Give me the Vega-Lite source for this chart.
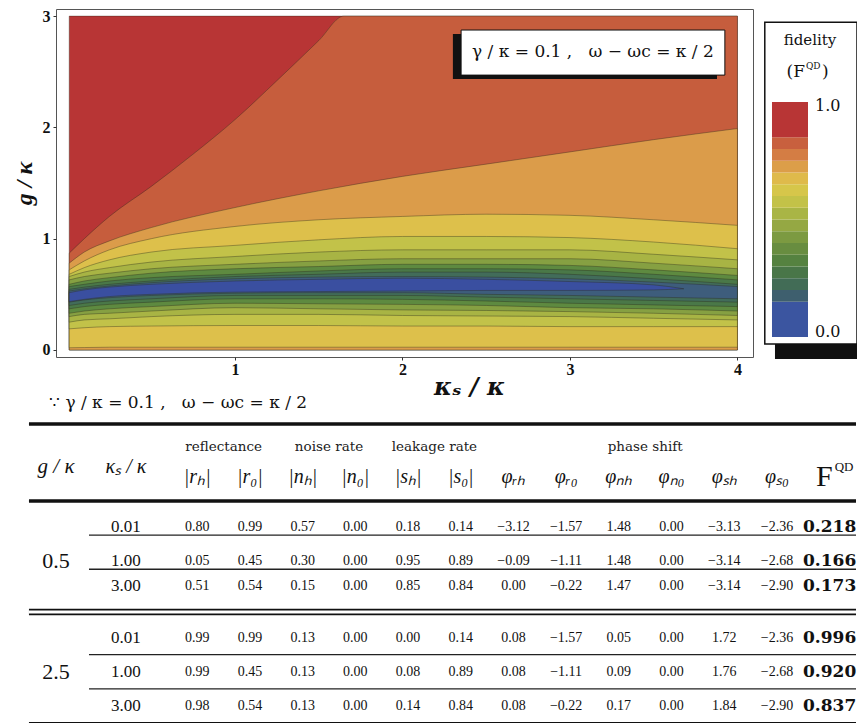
{
  "$schema": "https://vega.github.io/schema/vega-lite/v6.json",
  "padding": {"left": 11, "top": 7, "right": 0, "bottom": 0},
  "background": "white",
  "config": {"font": "DejaVu Serif", "view": {"stroke": null}, "text": {"color": "#111"}},
  "datasets": {
    "contours": [
      {"band":11,"ks":0.01,"lo":0,"hi":3},{"band":11,"ks":4,"lo":0,"hi":3},
      {"band":10,"ks":0.01,"lo":0,"hi":0.87},{"band":10,"ks":0.1,"lo":0,"hi":1.0},{"band":10,"ks":0.25,"lo":0,"hi":1.2},{"band":10,"ks":0.5,"lo":0,"hi":1.47},{"band":10,"ks":0.75,"lo":0,"hi":1.76},{"band":10,"ks":1.0,"lo":0,"hi":2.07},{"band":10,"ks":1.25,"lo":0,"hi":2.42},{"band":10,"ks":1.5,"lo":0,"hi":2.78},{"band":10,"ks":1.65,"lo":0,"hi":3.0},{"band":10,"ks":2.5,"lo":0,"hi":3.0},{"band":10,"ks":4.0,"lo":0,"hi":3.0},
      {"band":9,"ks":0.01,"lo":0,"hi":0.78},{"band":9,"ks":0.1,"lo":0,"hi":0.88},{"band":9,"ks":0.25,"lo":0,"hi":0.98},{"band":9,"ks":0.5,"lo":0,"hi":1.1},{"band":9,"ks":1,"lo":0,"hi":1.28},{"band":9,"ks":1.5,"lo":0,"hi":1.43},{"band":9,"ks":2,"lo":0,"hi":1.56},{"band":9,"ks":2.5,"lo":0,"hi":1.67},{"band":9,"ks":3,"lo":0,"hi":1.78},{"band":9,"ks":3.5,"lo":0,"hi":1.89},{"band":9,"ks":4,"lo":0,"hi":1.99},
      {"band":8,"ks":0.01,"lo":0.02,"hi":0.72},{"band":8,"ks":0.1,"lo":0.022,"hi":0.8},{"band":8,"ks":0.25,"lo":0.025,"hi":0.9},{"band":8,"ks":0.5,"lo":0.025,"hi":1.0},{"band":8,"ks":1,"lo":0.025,"hi":1.11},{"band":8,"ks":1.5,"lo":0.025,"hi":1.17},{"band":8,"ks":2,"lo":0.025,"hi":1.2},{"band":8,"ks":2.5,"lo":0.025,"hi":1.22},{"band":8,"ks":3,"lo":0.025,"hi":1.21},{"band":8,"ks":3.5,"lo":0.025,"hi":1.17},{"band":8,"ks":4,"lo":0.025,"hi":1.12},
      {"band":7,"ks":0.01,"lo":0.19,"hi":0.68},{"band":7,"ks":0.1,"lo":0.2,"hi":0.74},{"band":7,"ks":0.25,"lo":0.21,"hi":0.81},{"band":7,"ks":0.5,"lo":0.215,"hi":0.88},{"band":7,"ks":1,"lo":0.22,"hi":0.94},{"band":7,"ks":1.5,"lo":0.22,"hi":0.99},{"band":7,"ks":2,"lo":0.215,"hi":1.02},{"band":7,"ks":2.5,"lo":0.215,"hi":1.02},{"band":7,"ks":3,"lo":0.21,"hi":1.01},{"band":7,"ks":3.5,"lo":0.21,"hi":0.97},{"band":7,"ks":4,"lo":0.21,"hi":0.91},
      {"band":6,"ks":0.01,"lo":0.25,"hi":0.66},{"band":6,"ks":0.1,"lo":0.27,"hi":0.7},{"band":6,"ks":0.25,"lo":0.28,"hi":0.74},{"band":6,"ks":0.5,"lo":0.3,"hi":0.79},{"band":6,"ks":1,"lo":0.32,"hi":0.84},{"band":6,"ks":1.5,"lo":0.32,"hi":0.88},{"band":6,"ks":2,"lo":0.31,"hi":0.9},{"band":6,"ks":2.5,"lo":0.305,"hi":0.9},{"band":6,"ks":3,"lo":0.3,"hi":0.9},{"band":6,"ks":3.5,"lo":0.285,"hi":0.86},{"band":6,"ks":4,"lo":0.27,"hi":0.81},
      {"band":5,"ks":0.01,"lo":0.3,"hi":0.63},{"band":5,"ks":0.1,"lo":0.32,"hi":0.66},{"band":5,"ks":0.25,"lo":0.33,"hi":0.69},{"band":5,"ks":0.5,"lo":0.35,"hi":0.73},{"band":5,"ks":1,"lo":0.38,"hi":0.77},{"band":5,"ks":1.5,"lo":0.37,"hi":0.8},{"band":5,"ks":2,"lo":0.36,"hi":0.82},{"band":5,"ks":2.5,"lo":0.355,"hi":0.82},{"band":5,"ks":3,"lo":0.345,"hi":0.82},{"band":5,"ks":3.5,"lo":0.33,"hi":0.78},{"band":5,"ks":4,"lo":0.31,"hi":0.73},
      {"band":4,"ks":0.01,"lo":0.33,"hi":0.59},{"band":4,"ks":0.1,"lo":0.35,"hi":0.62},{"band":4,"ks":0.25,"lo":0.37,"hi":0.65},{"band":4,"ks":0.5,"lo":0.39,"hi":0.69},{"band":4,"ks":1,"lo":0.42,"hi":0.73},{"band":4,"ks":1.5,"lo":0.415,"hi":0.75},{"band":4,"ks":2,"lo":0.41,"hi":0.77},{"band":4,"ks":2.5,"lo":0.4,"hi":0.77},{"band":4,"ks":3,"lo":0.38,"hi":0.76},{"band":4,"ks":3.5,"lo":0.37,"hi":0.72},{"band":4,"ks":4,"lo":0.35,"hi":0.67},
      {"band":3,"ks":0.01,"lo":0.37,"hi":0.57},{"band":3,"ks":0.1,"lo":0.39,"hi":0.59},{"band":3,"ks":0.25,"lo":0.41,"hi":0.62},{"band":3,"ks":0.5,"lo":0.43,"hi":0.65},{"band":3,"ks":1,"lo":0.46,"hi":0.68},{"band":3,"ks":1.5,"lo":0.46,"hi":0.71},{"band":3,"ks":2,"lo":0.455,"hi":0.73},{"band":3,"ks":2.5,"lo":0.44,"hi":0.73},{"band":3,"ks":3,"lo":0.42,"hi":0.72},{"band":3,"ks":3.5,"lo":0.405,"hi":0.68},{"band":3,"ks":4,"lo":0.39,"hi":0.63},
      {"band":2,"ks":0.01,"lo":0.4,"hi":0.545},{"band":2,"ks":0.1,"lo":0.42,"hi":0.565},{"band":2,"ks":0.25,"lo":0.44,"hi":0.59},{"band":2,"ks":0.5,"lo":0.46,"hi":0.62},{"band":2,"ks":1,"lo":0.49,"hi":0.66},{"band":2,"ks":1.5,"lo":0.49,"hi":0.68},{"band":2,"ks":2,"lo":0.49,"hi":0.7},{"band":2,"ks":2.5,"lo":0.475,"hi":0.7},{"band":2,"ks":3,"lo":0.46,"hi":0.68},{"band":2,"ks":3.5,"lo":0.445,"hi":0.64},{"band":2,"ks":4,"lo":0.43,"hi":0.59},
      {"band":1,"ks":0.01,"lo":0.43,"hi":0.53},{"band":1,"ks":0.1,"lo":0.45,"hi":0.55},{"band":1,"ks":0.25,"lo":0.47,"hi":0.575},{"band":1,"ks":0.5,"lo":0.49,"hi":0.605},{"band":1,"ks":1,"lo":0.51,"hi":0.64},{"band":1,"ks":1.5,"lo":0.515,"hi":0.655},{"band":1,"ks":2,"lo":0.515,"hi":0.66},{"band":1,"ks":2.5,"lo":0.5,"hi":0.655},{"band":1,"ks":3,"lo":0.49,"hi":0.64},{"band":1,"ks":3.5,"lo":0.475,"hi":0.61},{"band":1,"ks":4,"lo":0.46,"hi":0.57},
      {"band":0,"ks":0.01,"lo":0.435,"hi":0.515},{"band":0,"ks":0.1,"lo":0.455,"hi":0.54},{"band":0,"ks":0.25,"lo":0.48,"hi":0.565},{"band":0,"ks":0.5,"lo":0.5,"hi":0.59},{"band":0,"ks":1,"lo":0.52,"hi":0.62},{"band":0,"ks":1.5,"lo":0.525,"hi":0.635},{"band":0,"ks":2,"lo":0.53,"hi":0.645},{"band":0,"ks":2.5,"lo":0.535,"hi":0.635},{"band":0,"ks":3,"lo":0.535,"hi":0.615},{"band":0,"ks":3.5,"lo":0.54,"hi":0.585},{"band":0,"ks":3.68,"lo":0.55,"hi":0.55}
    ],
    "legendbar": [
      {"lo":0,"hi":0.15},{"lo":0.15,"hi":0.2},{"lo":0.2,"hi":0.25},{"lo":0.25,"hi":0.3},{"lo":0.3,"hi":0.35},{"lo":0.35,"hi":0.4},{"lo":0.4,"hi":0.45},{"lo":0.45,"hi":0.5},{"lo":0.5,"hi":0.55},{"lo":0.55,"hi":0.6},{"lo":0.6,"hi":0.65},{"lo":0.65,"hi":0.7},{"lo":0.7,"hi":0.75},{"lo":0.75,"hi":0.8},{"lo":0.8,"hi":0.85},{"lo":0.85,"hi":1.0}
    ],
    "table": [
      {"slot":"r1","g":"0.5","ks":"0.01","rh":"0.80","r0":"0.99","nh":"0.57","n0":"0.00","sh":"0.18","s0":"0.14","prh":"−3.12","pr0":"−1.57","pnh":"1.48","pn0":"0.00","psh":"−3.13","ps0":"−2.36","F":"0.218"},
      {"slot":"r2","g":"0.5","ks":"1.00","rh":"0.05","r0":"0.45","nh":"0.30","n0":"0.00","sh":"0.95","s0":"0.89","prh":"−0.09","pr0":"−1.11","pnh":"1.48","pn0":"0.00","psh":"−3.14","ps0":"−2.68","F":"0.166"},
      {"slot":"r3","g":"0.5","ks":"3.00","rh":"0.51","r0":"0.54","nh":"0.15","n0":"0.00","sh":"0.85","s0":"0.84","prh":"0.00","pr0":"−0.22","pnh":"1.47","pn0":"0.00","psh":"−3.14","ps0":"−2.90","F":"0.173"},
      {"slot":"r4","g":"2.5","ks":"0.01","rh":"0.99","r0":"0.99","nh":"0.13","n0":"0.00","sh":"0.00","s0":"0.14","prh":"0.08","pr0":"−1.57","pnh":"0.05","pn0":"0.00","psh":"1.72","ps0":"−2.36","F":"0.996"},
      {"slot":"r5","g":"2.5","ks":"1.00","rh":"0.99","r0":"0.45","nh":"0.13","n0":"0.00","sh":"0.08","s0":"0.89","prh":"0.08","pr0":"−1.11","pnh":"0.09","pn0":"0.00","psh":"1.76","ps0":"−2.68","F":"0.920"},
      {"slot":"r6","g":"2.5","ks":"3.00","rh":"0.98","r0":"0.54","nh":"0.13","n0":"0.00","sh":"0.14","s0":"0.84","prh":"0.08","pr0":"−0.22","pnh":"0.17","pn0":"0.00","psh":"1.84","ps0":"−2.90","F":"0.837"}
    ]
  },
  "spacing": -6,
  "resolve": {"scale": {"x": "independent", "y": "independent", "color": "independent"}},
  "vconcat": [
    {
      "spacing": 10,
      "resolve": {"scale": {"x": "independent", "y": "independent", "color": "independent"}},
      "hconcat": [
        {
          "width": 697,
          "height": 348,
          "view": {"stroke": "#555", "strokeWidth": 1},
          "layer": [
            {
              "data": {"name": "contours"},
              "mark": {"type": "area", "interpolate": "monotone", "stroke": "#2a2a1a", "strokeWidth": 0.7, "strokeOpacity": 0.55},
              "encoding": {
                "x": {"field": "ks", "type": "quantitative", "scale": {"domain": [-0.069, 4.093], "nice": false, "zero": false},
                  "axis": {"values": [1, 2, 3, 4], "format": "d", "domain": false, "grid": false, "tickSize": 3, "tickColor": "#333", "labelPadding": 1, "labelFont": "Liberation Serif", "labelFontWeight": "bold", "labelFontSize": 16, "labelColor": "#111", "title": "κₛ / κ", "titleFont": "DejaVu Serif", "titleFontStyle": "italic", "titleFontWeight": "bold", "titleFontSize": 24, "titleColor": "#111", "titleX": 413, "titlePadding": -2}},
                "y": {"field": "lo", "type": "quantitative", "stack": null, "scale": {"domain": [-0.063, 3.064], "nice": false, "zero": false},
                  "axis": {"values": [0, 1, 2, 3], "format": "d", "domain": false, "grid": false, "tickSize": 3, "tickColor": "#333", "labelPadding": 3, "labelFont": "Liberation Serif", "labelFontWeight": "bold", "labelFontSize": 16, "labelColor": "#111", "title": "g / κ", "titleFont": "Liberation Serif", "titleFontStyle": "italic", "titleFontWeight": "bold", "titleFontSize": 24, "titleColor": "#111", "titlePadding": 6}},
                "y2": {"field": "hi"},
                "color": {"field": "band", "type": "ordinal", "legend": null,
                  "scale": {"domain": [0,1,2,3,4,5,6,7,8,9,10,11], "range": ["#3A4FA0","#3E5D7C","#426C5A","#4A7848","#5E8A40","#86A042","#A8B444","#C2C249","#DDC04B","#DB9C4A","#C65D3D","#B83535"]}}
              }
            },
            {
              "data": {"values": [{}]},
              "mark": {"type": "rect", "color": "#111"},
              "encoding": {
                "x": {"datum": 2.301, "type": "quantitative", "scale": {"domain": [-0.069, 4.093], "nice": false, "zero": false}},
                "x2": {"datum": 3.878},
                "y": {"datum": 2.435, "type": "quantitative", "scale": {"domain": [-0.063, 3.064], "nice": false, "zero": false}},
                "y2": {"datum": 2.839}
              }
            },
            {
              "data": {"values": [{}]},
              "mark": {"type": "rect", "fill": "white", "stroke": "#111", "strokeWidth": 1},
              "encoding": {
                "x": {"datum": 2.35, "type": "quantitative", "scale": {"domain": [-0.069, 4.093], "nice": false, "zero": false}},
                "x2": {"datum": 3.925},
                "y": {"datum": 2.47, "type": "quantitative", "scale": {"domain": [-0.063, 3.064], "nice": false, "zero": false}},
                "y2": {"datum": 2.875}
              }
            },
            {
              "data": {"values": [{}]},
              "mark": {"type": "text", "text": "γ / κ = 0.1 ,\u00a0\u00a0\u00a0ω − ωc = κ / 2", "font": "DejaVu Serif", "fontSize": 17, "align": "center", "baseline": "middle", "color": "#111"},
              "encoding": {
                "x": {"datum": 3.137, "type": "quantitative", "scale": {"domain": [-0.069, 4.093], "nice": false, "zero": false}},
                "y": {"datum": 2.677, "type": "quantitative", "scale": {"domain": [-0.063, 3.064], "nice": false, "zero": false}}
              }
            }
          ]
        },
        {
          "width": 93,
          "height": 350,
          "data": {"values": [{}]},
          "layer": [
            {
              "mark": {"type": "rect", "color": "#111"},
              "encoding": {
                "x": {"datum": 0.083, "type": "quantitative", "scale": {"domain": [-0.222, 2.361], "nice": false, "zero": false}, "axis": null},
                "x2": {"value": "width"},
                "y": {"datum": -0.094, "type": "quantitative", "scale": {"domain": [-0.094, 1.396], "nice": false, "zero": false}, "axis": null},
                "y2": {"datum": -0.03}
              }
            },
            {
              "mark": {"type": "rect", "fill": "white", "stroke": "#111", "strokeWidth": 1.5},
              "encoding": {
                "x": {"datum": -0.2, "type": "quantitative", "scale": {"domain": [-0.222, 2.361], "nice": false, "zero": false}, "axis": null},
                "x2": {"value": "width"},
                "y": {"datum": -0.03, "type": "quantitative", "scale": {"domain": [-0.094, 1.396], "nice": false, "zero": false}, "axis": null},
                "y2": {"datum": 1.34}
              }
            },
            {
              "data": {"name": "legendbar"},
              "mark": {"type": "rect"},
              "encoding": {
                "x": {"datum": 0, "type": "quantitative", "scale": {"domain": [-0.222, 2.361], "nice": false, "zero": false}, "axis": null},
                "x2": {"datum": 1},
                "y": {"field": "lo", "type": "quantitative", "scale": {"domain": [-0.094, 1.396], "nice": false, "zero": false}, "axis": null},
                "y2": {"field": "hi"},
                "color": {"field": "lo", "type": "ordinal", "legend": null,
                  "scale": {"domain": [0,0.15,0.2,0.25,0.3,0.35,0.4,0.45,0.5,0.55,0.6,0.65,0.7,0.75,0.8,0.85], "range": ["#3B55A0","#3E5F6E","#426C56","#497648","#558240","#688D40","#7C9A41","#95A843","#A9B545","#C3C248","#D6C64A","#DFBA4B","#DC9E49","#D47D44","#C8603E","#B83535"]}}
              }
            },
            {
              "mark": {"type": "text", "text": "1.0", "align": "left", "baseline": "middle", "font": "DejaVu Serif", "fontSize": 16},
              "encoding": {
                "x": {"datum": 1.194, "type": "quantitative", "scale": {"domain": [-0.222, 2.361], "nice": false, "zero": false}, "axis": null},
                "y": {"datum": 0.985, "type": "quantitative", "scale": {"domain": [-0.094, 1.396], "nice": false, "zero": false}, "axis": null}
              }
            },
            {
              "mark": {"type": "text", "text": "0.0", "align": "left", "baseline": "middle", "font": "DejaVu Serif", "fontSize": 16},
              "encoding": {
                "x": {"datum": 1.194, "type": "quantitative", "scale": {"domain": [-0.222, 2.361], "nice": false, "zero": false}, "axis": null},
                "y": {"datum": 0.022, "type": "quantitative", "scale": {"domain": [-0.094, 1.396], "nice": false, "zero": false}, "axis": null}
              }
            },
            {
              "mark": {"type": "text", "text": "fidelity", "align": "center", "baseline": "middle", "font": "DejaVu Serif", "fontSize": 15},
              "encoding": {
                "x": {"datum": 1.055, "type": "quantitative", "scale": {"domain": [-0.222, 2.361], "nice": false, "zero": false}, "axis": null},
                "y": {"datum": 1.264, "type": "quantitative", "scale": {"domain": [-0.094, 1.396], "nice": false, "zero": false}, "axis": null}
              }
            },
            {
              "mark": {"type": "text", "text": "(F", "align": "right", "baseline": "middle", "font": "DejaVu Serif", "fontSize": 17},
              "encoding": {
                "x": {"datum": 0.917, "type": "quantitative", "scale": {"domain": [-0.222, 2.361], "nice": false, "zero": false}, "axis": null},
                "y": {"datum": 1.128, "type": "quantitative", "scale": {"domain": [-0.094, 1.396], "nice": false, "zero": false}, "axis": null}
              }
            },
            {
              "mark": {"type": "text", "text": "QD", "align": "left", "baseline": "middle", "font": "DejaVu Serif", "fontSize": 9, "dy": -6},
              "encoding": {
                "x": {"datum": 0.944, "type": "quantitative", "scale": {"domain": [-0.222, 2.361], "nice": false, "zero": false}, "axis": null},
                "y": {"datum": 1.128, "type": "quantitative", "scale": {"domain": [-0.094, 1.396], "nice": false, "zero": false}, "axis": null}
              }
            },
            {
              "mark": {"type": "text", "text": ")", "align": "left", "baseline": "middle", "font": "DejaVu Serif", "fontSize": 17},
              "encoding": {
                "x": {"datum": 1.389, "type": "quantitative", "scale": {"domain": [-0.222, 2.361], "nice": false, "zero": false}, "axis": null},
                "y": {"datum": 1.128, "type": "quantitative", "scale": {"domain": [-0.094, 1.396], "nice": false, "zero": false}, "axis": null}
              }
            }
          ]
        }
      ]
    },
    {
      "width": 800,
      "height": 299,
      "title": {"text": "∵ γ / κ = 0.1 ,\u00a0\u00a0\u00a0ω − ωc = κ / 2", "anchor": "start", "frame": "group", "font": "DejaVu Serif", "fontSize": 17, "fontWeight": "normal", "color": "#111", "dx": -7, "offset": 10},
      "encoding": {
        "y": {"field": "slot", "type": "nominal", "axis": null,
          "scale": {"type": "point", "padding": 0, "domain": ["top","y1","y2","hdr1","y4","hdrmid","hdr2","y7","y8","hrule","y10","y11","r1","sep1","y14","y15","r2","sep2","y18","r3","y20","y21","dbl","y23","y24","r4","y26","sep3","y28","r5","y30","sep4","y32","r6","y34","bottom"]}}
      },
      "layer": [
        {
          "data": {"values": [{"slot": "top"}, {"slot": "hrule"}]},
          "mark": {"type": "rule", "strokeWidth": 3.5, "color": "#111"},
          "encoding": {
            "x": {"datum": "g", "type": "nominal", "bandPosition": -0.693, "axis": null, "scale": {"type": "band", "domain": ["g","ks","rh","r0","nh","n0","sh","s0","prh","pr0","pnh","pn0","psh","ps0","F"], "paddingInner": 0, "paddingOuter": 0.09, "align": 1}},
            "x2": {"value": "width"}
          }
        },
        {
          "data": {"values": [{"slot": "dbl"}]},
          "mark": {"type": "rule", "strokeWidth": 6.5, "color": "#111"},
          "encoding": {
            "x": {"datum": "g", "type": "nominal", "bandPosition": -0.693, "axis": null, "scale": {"type": "band", "domain": ["g","ks","rh","r0","nh","n0","sh","s0","prh","pr0","pnh","pn0","psh","ps0","F"], "paddingInner": 0, "paddingOuter": 0.09, "align": 1}},
            "x2": {"value": "width"}
          }
        },
        {
          "data": {"values": [{"slot": "dbl"}]},
          "mark": {"type": "rule", "strokeWidth": 3, "color": "white"},
          "encoding": {
            "x": {"datum": "g", "type": "nominal", "bandPosition": -0.693, "axis": null, "scale": {"type": "band", "domain": ["g","ks","rh","r0","nh","n0","sh","s0","prh","pr0","pnh","pn0","psh","ps0","F"], "paddingInner": 0, "paddingOuter": 0.09, "align": 1}},
            "x2": {"value": "width"}
          }
        },
        {
          "data": {"values": [{"slot": "bottom"}]},
          "mark": {"type": "rule", "strokeWidth": 2, "color": "#111"},
          "encoding": {
            "x": {"datum": "g", "type": "nominal", "bandPosition": -0.693, "axis": null, "scale": {"type": "band", "domain": ["g","ks","rh","r0","nh","n0","sh","s0","prh","pr0","pnh","pn0","psh","ps0","F"], "paddingInner": 0, "paddingOuter": 0.09, "align": 1}},
            "x2": {"value": "width"}
          }
        },
        {
          "data": {"values": [{"slot": "sep1"}, {"slot": "sep2"}, {"slot": "sep3"}, {"slot": "sep4"}]},
          "mark": {"type": "rule", "strokeWidth": 1.3, "color": "#222"},
          "encoding": {
            "x": {"datum": "g", "type": "nominal", "bandPosition": 0.446, "axis": null, "scale": {"type": "band", "domain": ["g","ks","rh","r0","nh","n0","sh","s0","prh","pr0","pnh","pn0","psh","ps0","F"], "paddingInner": 0, "paddingOuter": 0.09, "align": 1}},
            "x2": {"value": "width"}
          }
        },
        {
          "data": {"values": [{"col": "rh", "label": "reflectance", "slot": "hdr1"}, {"col": "nh", "label": "noise rate", "slot": "hdr1"}, {"col": "sh", "label": "leakage rate", "slot": "hdr1"}, {"col": "pnh", "label": "phase shift", "slot": "hdr1"}]},
          "mark": {"type": "text", "font": "DejaVu Serif", "fontSize": 13.5, "align": "center", "baseline": "middle", "color": "#222", "dy": -3},
          "encoding": {
            "x": {"field": "col", "type": "nominal", "bandPosition": 1, "axis": null, "scale": {"type": "band", "domain": ["g","ks","rh","r0","nh","n0","sh","s0","prh","pr0","pnh","pn0","psh","ps0","F"], "paddingInner": 0, "paddingOuter": 0.09, "align": 1}},
            "text": {"field": "label"}
          }
        },
        {
          "data": {"values": [{"col":"rh","label":"|rₕ|","slot":"hdr2"},{"col":"r0","label":"|r₀|","slot":"hdr2"},{"col":"nh","label":"|nₕ|","slot":"hdr2"},{"col":"n0","label":"|n₀|","slot":"hdr2"},{"col":"sh","label":"|sₕ|","slot":"hdr2"},{"col":"s0","label":"|s₀|","slot":"hdr2"},{"col":"prh","label":"φᵣₕ","slot":"hdr2"},{"col":"pr0","label":"φᵣ₀","slot":"hdr2"},{"col":"pnh","label":"φₙₕ","slot":"hdr2"},{"col":"pn0","label":"φₙ₀","slot":"hdr2"},{"col":"psh","label":"φₛₕ","slot":"hdr2"},{"col":"ps0","label":"φₛ₀","slot":"hdr2"}]},
          "mark": {"type": "text", "font": "Liberation Serif", "fontStyle": "italic", "fontSize": 20, "align": "center", "baseline": "middle", "dy": 2},
          "encoding": {
            "x": {"field": "col", "type": "nominal", "bandPosition": 0.5, "axis": null, "scale": {"type": "band", "domain": ["g","ks","rh","r0","nh","n0","sh","s0","prh","pr0","pnh","pn0","psh","ps0","F"], "paddingInner": 0, "paddingOuter": 0.09, "align": 1}},
            "text": {"field": "label"}
          }
        },
        {
          "data": {"values": [{"slot": "hdr2"}]},
          "mark": {"type": "text", "text": "F", "font": "Liberation Serif", "fontSize": 30, "align": "right", "baseline": "middle", "dx": 3, "dy": 2},
          "encoding": {
            "x": {"datum": "F", "type": "nominal", "bandPosition": 0.5, "axis": null, "scale": {"type": "band", "domain": ["g","ks","rh","r0","nh","n0","sh","s0","prh","pr0","pnh","pn0","psh","ps0","F"], "paddingInner": 0, "paddingOuter": 0.09, "align": 1}}
          }
        },
        {
          "data": {"values": [{"slot": "hdr2"}]},
          "mark": {"type": "text", "text": "QD", "font": "Liberation Serif", "fontSize": 13, "align": "left", "baseline": "middle", "dx": 5, "dy": -8},
          "encoding": {
            "x": {"datum": "F", "type": "nominal", "bandPosition": 0.5, "axis": null, "scale": {"type": "band", "domain": ["g","ks","rh","r0","nh","n0","sh","s0","prh","pr0","pnh","pn0","psh","ps0","F"], "paddingInner": 0, "paddingOuter": 0.09, "align": 1}}
          }
        },
        {
          "data": {"values": [{"col": "g", "label": "g / κ", "slot": "hdrmid"}]},
          "mark": {"type": "text", "font": "Liberation Serif", "fontStyle": "italic", "fontSize": 21, "align": "center", "baseline": "middle"},
          "encoding": {
            "x": {"field": "col", "type": "nominal", "bandPosition": -0.18, "axis": null, "scale": {"type": "band", "domain": ["g","ks","rh","r0","nh","n0","sh","s0","prh","pr0","pnh","pn0","psh","ps0","F"], "paddingInner": 0, "paddingOuter": 0.09, "align": 1}},
            "text": {"field": "label"}
          }
        },
        {
          "data": {"values": [{"col": "ks", "label": "κₛ / κ", "slot": "hdrmid"}]},
          "mark": {"type": "text", "font": "Liberation Serif", "fontStyle": "italic", "fontSize": 20, "align": "center", "baseline": "middle"},
          "encoding": {
            "x": {"field": "col", "type": "nominal", "bandPosition": 0.148, "axis": null, "scale": {"type": "band", "domain": ["g","ks","rh","r0","nh","n0","sh","s0","prh","pr0","pnh","pn0","psh","ps0","F"], "paddingInner": 0, "paddingOuter": 0.09, "align": 1}},
            "text": {"field": "label"}
          }
        },
        {
          "data": {"name": "table"},
          "transform": [{"fold": ["rh","r0","nh","n0","sh","s0","prh","pr0","pnh","pn0","psh","ps0"], "as": ["col", "val"]}],
          "mark": {"type": "text", "font": "Liberation Serif", "fontSize": 14, "align": "center", "baseline": "middle"},
          "encoding": {
            "x": {"field": "col", "type": "nominal", "bandPosition": 0.5, "axis": null, "scale": {"type": "band", "domain": ["g","ks","rh","r0","nh","n0","sh","s0","prh","pr0","pnh","pn0","psh","ps0","F"], "paddingInner": 0, "paddingOuter": 0.09, "align": 1}},
            "text": {"field": "val"}
          }
        },
        {
          "data": {"name": "table"},
          "mark": {"type": "text", "font": "DejaVu Serif", "fontWeight": "bold", "fontSize": 17, "align": "center", "baseline": "middle"},
          "encoding": {
            "x": {"datum": "F", "type": "nominal", "bandPosition": 0.5, "axis": null, "scale": {"type": "band", "domain": ["g","ks","rh","r0","nh","n0","sh","s0","prh","pr0","pnh","pn0","psh","ps0","F"], "paddingInner": 0, "paddingOuter": 0.09, "align": 1}},
            "text": {"field": "F"}
          }
        },
        {
          "data": {"name": "table"},
          "mark": {"type": "text", "font": "Liberation Serif", "fontSize": 17, "align": "center", "baseline": "middle"},
          "encoding": {
            "x": {"datum": "ks", "type": "nominal", "bandPosition": 0.148, "axis": null, "scale": {"type": "band", "domain": ["g","ks","rh","r0","nh","n0","sh","s0","prh","pr0","pnh","pn0","psh","ps0","F"], "paddingInner": 0, "paddingOuter": 0.09, "align": 1}},
            "text": {"field": "ks"}
          }
        },
        {
          "data": {"name": "table"},
          "transform": [{"filter": "datum.ks == '1.00'"}],
          "mark": {"type": "text", "font": "Liberation Serif", "fontSize": 22, "align": "center", "baseline": "middle"},
          "encoding": {
            "x": {"datum": "g", "type": "nominal", "bandPosition": -0.18, "axis": null, "scale": {"type": "band", "domain": ["g","ks","rh","r0","nh","n0","sh","s0","prh","pr0","pnh","pn0","psh","ps0","F"], "paddingInner": 0, "paddingOuter": 0.09, "align": 1}},
            "text": {"field": "g"}
          }
        }
      ]
    }
  ]
}
